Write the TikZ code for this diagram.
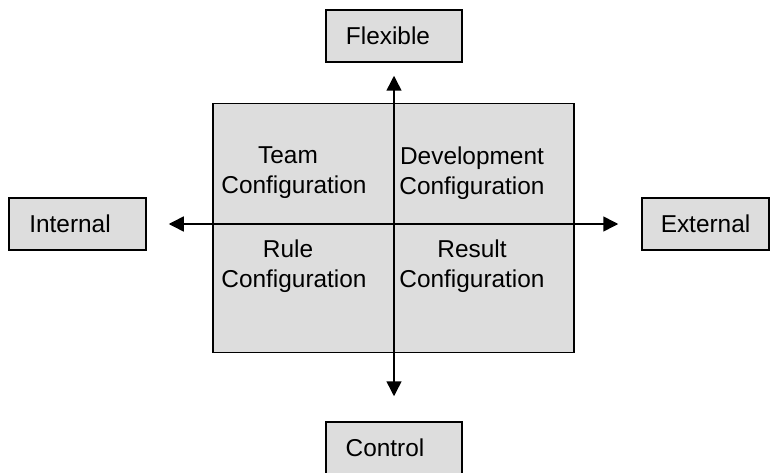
\documentclass[tikz,border=0pt]{standalone}
\usepackage{fontspec}
\setmainfont{Liberation Sans}
\usetikzlibrary{arrows.meta, positioning}
\definecolor{boxgray}{RGB}{221,221,221}

\begin{document}
\begin{tikzpicture}[x=1pt, y=-1pt, font=\fontsize{24.4}{30}\selectfont]
	\tikzset {>={Triangle[length=15pt, width=15pt]}, every node/.style={inner sep=0pt},
		labelbox/.style={draw, line width=1.5pt, fill=boxgray, minimum width=136pt, minimum height=52pt},
		quad/.style={align=center} }
	\useasboundingbox (0,0) rectangle (770,473);

	% the four poles
	\node[labelbox] (flex) at (394,36) {\hspace*{-12pt}Flexible};
	\node[labelbox, minimum width=137pt] (int) at (77.5,224) {\hspace*{-15pt}Internal};
	\node[labelbox, minimum width=127pt] (ext) at (705.5,224) {External};
	\node[labelbox] (ctrl) at (394,448) {\hspace*{-18pt}Control};

	% the square with its quadrants
	\node[draw, line width=1.5pt, fill=boxgray, minimum width=361pt, minimum height=249pt] (grid) at (393.4,227.8) {};
	\node[quad] (team) at (294,173) {\hspace*{-12pt}Team\\Configuration};
	\node[quad] (dev) at (472,173) {Development\\Configuration};
	\node[quad] (rule) at (294,266) {\hspace*{-12pt}Rule\\Configuration};
	\node[quad] (result) at (472,266) {Result\\Configuration};

	\draw[<->, line width=1.5pt, shorten <=13pt, shorten >=25pt] (flex) -- (ctrl);
	\draw[<->, line width=1.5pt, shorten <=22pt, shorten >=23pt] (int) -- (ext);
\end{tikzpicture}
\end{document}
